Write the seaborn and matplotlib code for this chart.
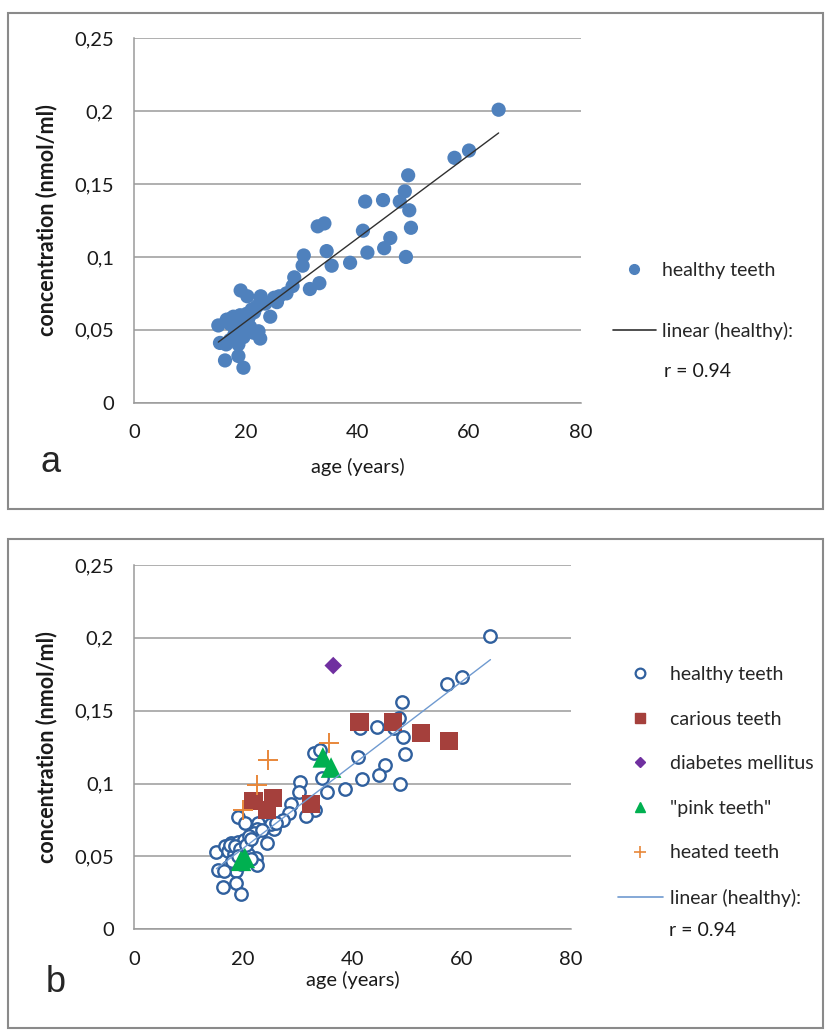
"""
Age dependence of tooth concentration: healthy teeth (a) and special groups (b).
"""

import numpy as np
import pandas as pd
import matplotlib
matplotlib.use("Agg")
import matplotlib.pyplot as plt
from matplotlib.lines import Line2D
from matplotlib.patches import Rectangle
from matplotlib.ticker import FuncFormatter
import seaborn as sns

# healthy teeth: age (years), concentration (nmol/ml)
healthy_age = [65.3, 60.0, 57.4, 49.1, 48.5, 47.6, 49.3, 49.6, 48.7, 44.6,
               41.4, 41.0, 45.9, 44.8, 41.8, 38.7, 32.9, 34.1, 34.5, 35.4,
               30.4, 30.2, 28.7, 33.2, 31.5, 28.4, 27.3, 25.6, 25.1, 24.4,
               22.7, 22.6, 19.1, 20.3, 22.0, 15.1, 16.6, 17.8, 19.0, 20.2,
               21.1, 17.2, 18.4, 20.8, 22.3, 22.6, 15.4, 17.2, 18.7, 16.3,
               18.7, 19.6, 19.6, 21.4, 17.5, 18.5, 19.5, 20.5, 21.5, 16.5,
               18.0, 19.0, 23.5, 26.0]
healthy_conc = [0.201, 0.173, 0.168, 0.156, 0.145, 0.138, 0.132, 0.120, 0.100, 0.139,
                0.138, 0.118, 0.113, 0.106, 0.103, 0.096, 0.121, 0.123, 0.104, 0.094,
                0.101, 0.094, 0.086, 0.082, 0.078, 0.080, 0.075, 0.069, 0.072, 0.059,
                0.073, 0.069, 0.077, 0.073, 0.066, 0.053, 0.057, 0.059, 0.060, 0.061,
                0.064, 0.054, 0.052, 0.052, 0.049, 0.044, 0.041, 0.043, 0.040, 0.029,
                0.032, 0.024, 0.045, 0.048, 0.058, 0.057, 0.055, 0.058, 0.062, 0.040,
                0.047, 0.050, 0.068, 0.073]

carious_age = [41.3, 47.5, 52.6, 57.7, 21.9, 25.5, 24.4, 32.4]
carious_conc = [0.142, 0.142, 0.135, 0.129, 0.088, 0.090, 0.082, 0.086]

diabetes_age = [36.5]
diabetes_conc = [0.181]

pink_age = [34.6, 36.1, 19.6, 20.3]
pink_conc = [0.118, 0.111, 0.047, 0.049]

heated_age = [35.8, 24.6, 22.5, 19.9]
heated_conc = [0.128, 0.116, 0.099, 0.082]

r_value = 0.94
y_ticks = [0, 0.05, 0.1, 0.15, 0.2, 0.25]
x_ticks = [0, 20, 40, 60, 80]

healthy = pd.DataFrame({"age": healthy_age, "conc": healthy_conc})

sns.set_style("white")
plt.rcParams["font.family"] = ["Lato", "DejaVu Sans"]
plt.rcParams["font.size"] = 14

W, H = 826, 1030
TXT = "#1a1a1a"
fig = plt.figure(figsize=(W / 100, H / 100), dpi=100)


def px_rect(x0, y0, x1, y1):
    """figure-fraction rect from pixel box (top-left origin)"""
    return [x0 / W, 1 - y1 / H, (x1 - x0) / W, (y1 - y0) / H]


def comma(v, pos):
    return ("%g" % v).replace(".", ",")


def style_axes(ax, xlabelpad):
    ax.set_xlim(0, 80)
    ax.set_ylim(0, 0.25)
    ax.set_xticks(x_ticks)
    ax.set_yticks(y_ticks)
    ax.yaxis.set_major_formatter(FuncFormatter(comma))
    ax.grid(axis="y", color="#9a9a9a", lw=1.1)
    ax.grid(axis="x", visible=False)
    for side in ["top", "right"]:
        ax.spines[side].set_visible(False)
    for side in ["left", "bottom"]:
        ax.spines[side].set_color("#9a9a9a")
        ax.spines[side].set_linewidth(1.1)
    ax.tick_params(axis="both", direction="out", length=4.5, width=1.1,
                   color="#9a9a9a", labelsize=14.5, labelcolor=TXT)
    ax.tick_params(axis="y", pad=10)
    ax.tick_params(axis="x", pad=11)
    ax.set_xlabel("age (years)", fontsize=14.5, color=TXT, labelpad=xlabelpad)
    ax.set_ylabel("concentration (nmol/ml)", fontsize=15.5, color=TXT,
                  labelpad=12, fontweight="bold")
    ax.set_axisbelow(True)


# panel frames
fig.add_artist(Rectangle((8 / W, 1 - 509 / H), 815 / W, 496 / H, transform=fig.transFigure,
                         fill=False, edgecolor="#8a8a8a", lw=1.5))
fig.add_artist(Rectangle((8 / W, 1 - 1028 / H), 815 / W, 489 / H, transform=fig.transFigure,
                         fill=False, edgecolor="#8a8a8a", lw=1.5))

# ---- panel a ----
ax = fig.add_axes(px_rect(134, 38.3, 580.7, 402.7))
sns.scatterplot(data=healthy, x="age", y="conc", ax=ax, color="#4f81bd",
                s=105, edgecolor="none", linewidth=0, legend=False)
sns.regplot(data=healthy, x="age", y="conc", ax=ax, scatter=False, ci=None,
            truncate=True, line_kws={"color": "#303030", "lw": 1.0})
style_axes(ax, xlabelpad=12)

handles = [Line2D([], [], ls="none", marker="o", color="#4f81bd", markersize=7),
           Line2D([], [], color="#303030", lw=1.2)]
ax.legend(handles, ["healthy teeth", "linear (healthy):"], loc="upper left",
          bbox_to_anchor=(613 / W, 1 - 262 / H), bbox_transform=fig.transFigure,
          frameon=False, borderpad=0, borderaxespad=0, handlelength=2.2,
          handletextpad=0.3, labelspacing=2.2, fontsize=14)
fig.text(664 / W, 1 - 372 / H, f"r = {r_value:.2f}", fontsize=14, va="center",
         color=TXT)
fig.text(40 / W, 1 - 463 / H, "a", fontsize=26, va="center",
         family=["Liberation Sans", "DejaVu Sans"])

# ---- panel b ----
ax = fig.add_axes(px_rect(134, 565, 570.7, 929.3))
sns.scatterplot(data=healthy, x="age", y="conc", ax=ax, facecolor="white",
                edgecolor="#30609e", s=80, linewidth=1.7, legend=False)
sns.regplot(data=healthy, x="age", y="conc", ax=ax, scatter=False, ci=None,
            truncate=True, line_kws={"color": "#6f9ad0", "lw": 1.0})
sns.scatterplot(x=carious_age, y=carious_conc, ax=ax, marker="s", color="#a5403c",
                s=170, edgecolor="none", linewidth=0)
sns.scatterplot(x=diabetes_age, y=diabetes_conc, ax=ax, marker="D", color="#7030a0",
                s=80, edgecolor="none", linewidth=0)
sns.scatterplot(x=pink_age, y=pink_conc, ax=ax, marker="^", color="#00b050",
                s=220, edgecolor="none", linewidth=0)
sns.scatterplot(x=heated_age, y=heated_conc, ax=ax, marker="+", color="#e8873a",
                s=190, linewidth=1.4)
style_axes(ax, xlabelpad=2)

handles = [Line2D([], [], ls="none", marker="o", mfc="white", mec="#30609e", mew=1.6, markersize=7),
           Line2D([], [], ls="none", marker="s", color="#a5403c", markersize=7),
           Line2D([], [], ls="none", marker="D", color="#7030a0", markersize=5.5),
           Line2D([], [], ls="none", marker="^", color="#00b050", markersize=7),
           Line2D([], [], ls="none", marker="+", color="#e8873a", markersize=8, mew=1.2),
           Line2D([], [], color="#6f9ad0", lw=1.2)]
labels = ["healthy teeth", "carious teeth", "diabetes mellitus", '"pink teeth"',
          "heated teeth", "linear (healthy):"]
ax.legend(handles, labels, loc="upper left",
          bbox_to_anchor=(618 / W, 1 - 666 / H), bbox_transform=fig.transFigure,
          frameon=False, borderpad=0, borderaxespad=0, handlelength=2.3,
          handletextpad=0.35, labelspacing=1.42, fontsize=14)
fig.text(669 / W, 1 - 930 / H, f"r = {r_value:.2f}", fontsize=14, va="center",
         color=TXT)
fig.text(46 / W, 1 - 983 / H, "b", fontsize=26, va="center",
         family=["Liberation Sans", "DejaVu Sans"])

fig.savefig("out.png", dpi=100)
plt.close(fig)
